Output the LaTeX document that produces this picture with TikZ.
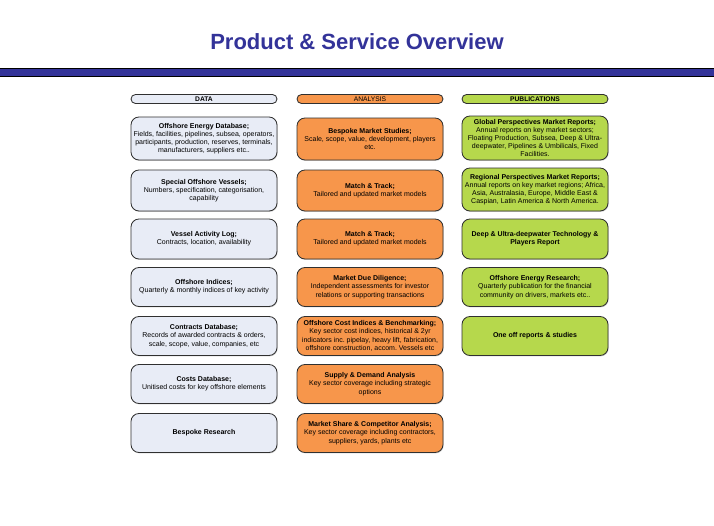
\documentclass[tikz,border=0pt]{standalone}
\usepackage{fontspec}
\setmainfont{Liberation Sans}
\usetikzlibrary{shadows}
\definecolor{titleblue}{HTML}{333399}
\definecolor{datafill}{HTML}{E8ECF6}
\definecolor{anafill}{HTML}{F7964B}
\definecolor{pubfill}{HTML}{B6D84C}
\definecolor{boxline}{HTML}{303030}
\tikzset{
  basebox/.style={rectangle, rounded corners=8pt, draw=boxline, line width=0.85pt,
    minimum width=146pt, align=center, inner sep=1pt,
    font=\fontsize{7}{8.2}\selectfont,
    drop shadow={shadow xshift=0.7pt, shadow yshift=-0.9pt, opacity=0.35}},
  databox/.style={basebox, fill=datafill},
  anabox/.style={basebox, fill=anafill},
  pubbox/.style={basebox, fill=pubfill},
  headbox/.style={rectangle, rounded corners=4.5pt, draw=boxline, line width=0.85pt,
    minimum width=146pt, minimum height=9pt, inner sep=0pt,
    font=\fontsize{6.7}{7}\selectfont},
}
\begin{document}
\frenchspacing
\begin{tikzpicture}[x=1pt,y=-1pt]
\useasboundingbox[fill=white] (0,0) rectangle (714,525);
% title and bar
\node[font=\fontsize{22}{26}\selectfont\bfseries, text=titleblue] (title) at (357,42) {Product \& Service Overview};
\fill[titleblue] (0,68) rectangle (714,76);
\draw[black, line width=1pt] (0,68) -- (714,68);
\draw[black, line width=1pt] (0,76) -- (714,76);
% headers
\node[headbox, fill=datafill] (hdata) at (204,99) {\textbf{DATA}};
\node[headbox, fill=anafill] (hana) at (370,99) {ANALYSIS};
\node[headbox, fill=pubfill] (hpub) at (535,99) {\textbf{PUBLICATIONS}};
% data column
\node[databox, minimum height=43pt] (d1) at (204,138.5) {\textbf{Offshore Energy Database;}\\Fields, facilities, pipelines, subsea, operators,\\participants, production, reserves, terminals,\\manufacturers, suppliers etc..};
\node[databox, minimum height=41pt] (d2) at (204,190.5) {\textbf{Special Offshore Vessels;}\\Numbers, specification, categorisation,\\capability};
\node[databox, minimum height=40pt] (d3) at (204,239) {\textbf{Vessel Activity Log;}\\Contracts, location, availability};
\node[databox, minimum height=39pt] (d4) at (204,287) {\textbf{Offshore Indices;}\\Quarterly \& monthly indices of key activity};
\node[databox, minimum height=39pt] (d5) at (204,336) {\textbf{Contracts Database;}\\Records of awarded contracts \& orders,\\scale, scope, value, companies, etc};
\node[databox, minimum height=39pt] (d6) at (204,384) {\textbf{Costs Database;}\\Unitised costs for key offshore elements};
\node[databox, minimum height=39pt] (d7) at (204,433) {\textbf{Bespoke Research}};
% analysis column
\node[anabox, minimum height=42pt] (a1) at (370,139) {\textbf{Bespoke Market Studies;}\\Scale, scope, value, development, players\\etc.};
\node[anabox, minimum height=41pt] (a2) at (370,190.5) {\textbf{Match \& Track;}\\Tailored and updated market models};
\node[anabox, minimum height=40pt] (a3) at (370,239) {\textbf{Match \& Track;}\\Tailored and updated market models};
\node[anabox, minimum height=39pt] (a4) at (370,287) {\textbf{Market Due Diligence;}\\Independent assessments for investor\\relations or supporting transactions};
\node[anabox, minimum height=39pt] (a5) at (370,336) {\textbf{Offshore Cost Indices \& Benchmarking;}\\Key sector cost indices, historical \& 2yr\\indicators inc. pipelay, heavy lift, fabrication,\\offshore construction, accom. Vessels etc};
\node[anabox, minimum height=39pt] (a6) at (370,384) {\textbf{Supply \& Demand Analysis}\\Key sector coverage including strategic\\options};
\node[anabox, minimum height=39pt] (a7) at (370,433) {\textbf{Market Share \& Competitor Analysis;}\\Key sector coverage including contractors,\\suppliers, yards, plants etc};
% publications column
\node[pubbox, minimum height=44pt] (p1) at (535,138) {\textbf{Global Perspectives Market Reports;}\\Annual reports on key market sectors;\\Floating Production, Subsea, Deep \& Ultra-\\deepwater, Pipelines \& Umbilicals, Fixed\\Facilities.};
\node[pubbox, minimum height=43pt] (p2) at (535,189.5) {\textbf{Regional Perspectives Market Reports;}\\Annual reports on key market regions; Africa,\\Asia, Australasia, Europe, Middle East \&\\Caspian, Latin America \& North America.};
\node[pubbox, minimum height=40pt] (p3) at (535,239) {\textbf{Deep \& Ultra-deepwater Technology \&}\\\textbf{Players Report}};
\node[pubbox, minimum height=39pt] (p4) at (535,287) {\textbf{Offshore Energy Research;}\\Quarterly publication for the financial\\community on drivers, markets etc..};
\node[pubbox, minimum height=39pt] (p5) at (535,336) {\textbf{One off reports \& studies}};
\end{tikzpicture}
\end{document}
